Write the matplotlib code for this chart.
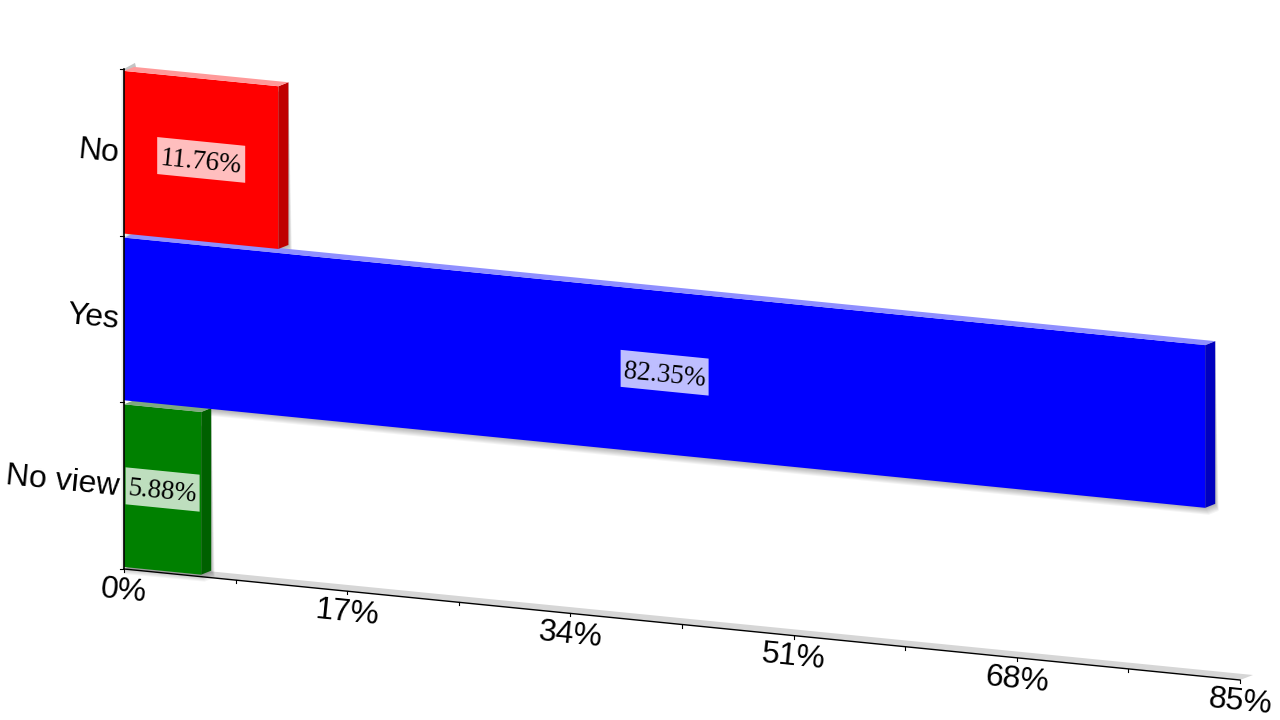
import numpy as np
import matplotlib
matplotlib.use("Agg")
import matplotlib.pyplot as plt
from matplotlib.patches import Polygon
from matplotlib.transforms import Affine2D

categories = ["No view", "Yes", "No"]
values = [5.88, 82.35, 11.76]
value_labels = ["5.88%", "82.35%", "11.76%"]
front_colors = ["#008000", "#0000ff", "#ff0000"]
side_colors = ["#006000", "#0000bf", "#bf0000"]
top_colors = ["#7fa87f", "#8f8fff", "#ff9999"]
x_ticks = [0, 17, 34, 51, 68, 85]
x_tick_labels = ["0%", "17%", "34%", "51%", "68%", "85%"]

# value/category -> pixel, the chart is a skewed fake 3d
proj = Affine2D.from_values(1116 / 85, 111 / 85, 0, -166.7, 124, 569)
SLOPE_DEG = np.degrees(np.arctan(111 / 1116))
DEPTH = np.array([10, -4])
INSET = 0.012
box_widths = [74, 88, 88]
BOX_H = 37

plt.rcParams["font.family"] = ["Liberation Sans", "DejaVu Sans"]
fig = plt.figure(figsize=(12.8, 7.2), dpi=100)
ax = fig.add_axes([0, 0, 1, 1])
ax.set_xlim(0, 1280)
ax.set_ylim(720, 0)
ax.set_axis_off()


def px(v, c):
    return proj.transform([[v, c]])[0]


def poly(points, color, z, alpha=1.0):
    ax.add_patch(Polygon(points, closed=True, fc=color, ec="none", alpha=alpha, zorder=z))


# floor strip and the bit of wall showing at the top
x_end = x_ticks[-1]
n_cat = len(categories)
poly([px(0, 0), px(x_end, 0), px(x_end, 0) + [13, -5], px(0, 0) + [13, -5]], "#d6d6d6", 1)
poly([px(0, n_cat), px(0, n_cat) + [2, 2], px(0, n_cat) + [12, -2], px(0, n_cat) + [11, -6]], "#c4c4c4", 1)
# faint shadow left of the y axis
for k in range(1, 4):
    poly([px(0, 0), px(0, n_cat), px(0, n_cat) - [k, 0], px(0, 0) - [k, 0]], "black", 1, alpha=0.04)

for i, v in enumerate(values):
    c0, c1 = i + INSET, i + 1 - INSET
    bl, br, tr, tl = px(0, c0), px(v, c0), px(v, c1), px(0, c1)
    # soft shadow under the bar
    for k in range(1, 8):
        poly([bl + [0, k], br + [k * 0.5, k], br + DEPTH + [k * 0.5, k], tr + DEPTH], "black", 2, alpha=0.045)
    poly([bl, br, tr, tl], front_colors[i], 3)
    poly([br, br + DEPTH, tr + DEPTH, tr], side_colors[i], 3)
    poly([tl, tr, tr + DEPTH, tl + DEPTH], top_colors[i], 3)

    # label plate, sheared with the bar
    w = box_widths[i] / proj.get_matrix()[0, 0]
    h = BOX_H / 166.7
    mid = i + 0.5
    poly(
        [
            px(v / 2 - w / 2, mid - h / 2),
            px(v / 2 + w / 2, mid - h / 2),
            px(v / 2 + w / 2, mid + h / 2),
            px(v / 2 - w / 2, mid + h / 2),
        ],
        "white",
        4,
        alpha=0.75,
    )
    cx, cy = px(v / 2, mid)
    ax.text(cx, cy + 2.5, value_labels[i], family="Liberation Serif", fontsize=19.4, color="black",
            ha="center", va="center", rotation=-SLOPE_DEG, rotation_mode="anchor", zorder=5)

    # category label
    lx, ly = px(0, mid)
    ax.text(lx - 5, ly + 1.5, categories[i], fontsize=23, color="black", ha="right", va="center",
            rotation=-SLOPE_DEG, rotation_mode="anchor", zorder=5)

# axis lines
ax.plot(*zip(px(0, 0), px(x_end, 0)), color="black", lw=1, zorder=6)
ax.plot(*zip(px(0, 0), px(0, n_cat)), color="black", lw=1.2, zorder=6)
for c in range(n_cat + 1):
    p = px(0, c)
    ax.plot([p[0] - 4, p[0]], [p[1], p[1]], color="black", lw=0.8, zorder=6)
for t in np.arange(0, x_end + 1, x_end / 10):
    p = px(t, 0)
    ax.plot([p[0], p[0]], [p[1], p[1] + 3], color="black", lw=0.8, zorder=6)
for t, lab in zip(x_ticks, x_tick_labels):
    p = px(t, 0)
    ax.text(p[0], p[1] + 22, lab, fontsize=23, color="black", ha="center", va="center",
            rotation=-SLOPE_DEG, rotation_mode="anchor", zorder=5)

fig.savefig("out.png", dpi=100, facecolor="white")
